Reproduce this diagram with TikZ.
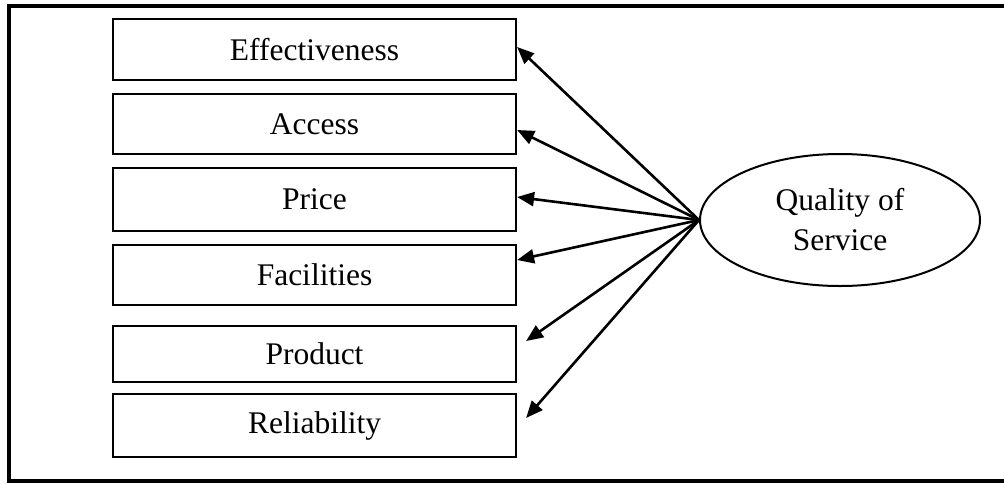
\documentclass[tikz,border=0pt]{standalone}
\usepackage{fontspec}
\setmainfont{Liberation Serif}
\usetikzlibrary{arrows.meta,shapes.geometric,calc}

\tikzset{
  factor/.style={draw, line width=2.2pt, minimum width=403pt, inner sep=0pt,
    font=\fontsize{31.5}{40}\selectfont},
  construct/.style={draw, ellipse, line width=2pt, minimum width=280pt,
    minimum height=132pt, inner sep=0pt, align=center,
    font=\fontsize{31.5}{40}\selectfont},
  link/.style={line width=2.6pt, -{Triangle[length=17pt,width=14pt]}}
}

\begin{document}
\begin{tikzpicture}[x=1pt,y=-1pt]
\useasboundingbox (0,0) rectangle (1004,483);
% outer frame (right side runs off the page)
\draw[line width=4pt] (1010,6) -- (8.5,6) -- (8.5,480.5) -- (1010,480.5);
\node[construct] (qos) at (840,220) {Quality of\\Service};
\foreach \name/\txt/\y/\h in {eff/Effectiveness/49.5/61, acc/Access/124/60,
  pri/Price/199.5/63, fac/Facilities/275/60, pro/Product/354/56,
  rel/Reliability/425.5/63}{\node[factor, minimum height=\h pt] (\name) at (314.5,\y) {\txt};};
%%% arrow ends, shifted from each box's east side
\foreach \name/\dx/\dy in {eff/0/-2.5, acc/0/6, pri/0/-2.5, fac/0/-15, pro/9/-13, rel/9/-7.5}{\draw[link] (qos.west) -- ($(\name.east)+(\dx,\dy)$);};
\end{tikzpicture}
\end{document}
